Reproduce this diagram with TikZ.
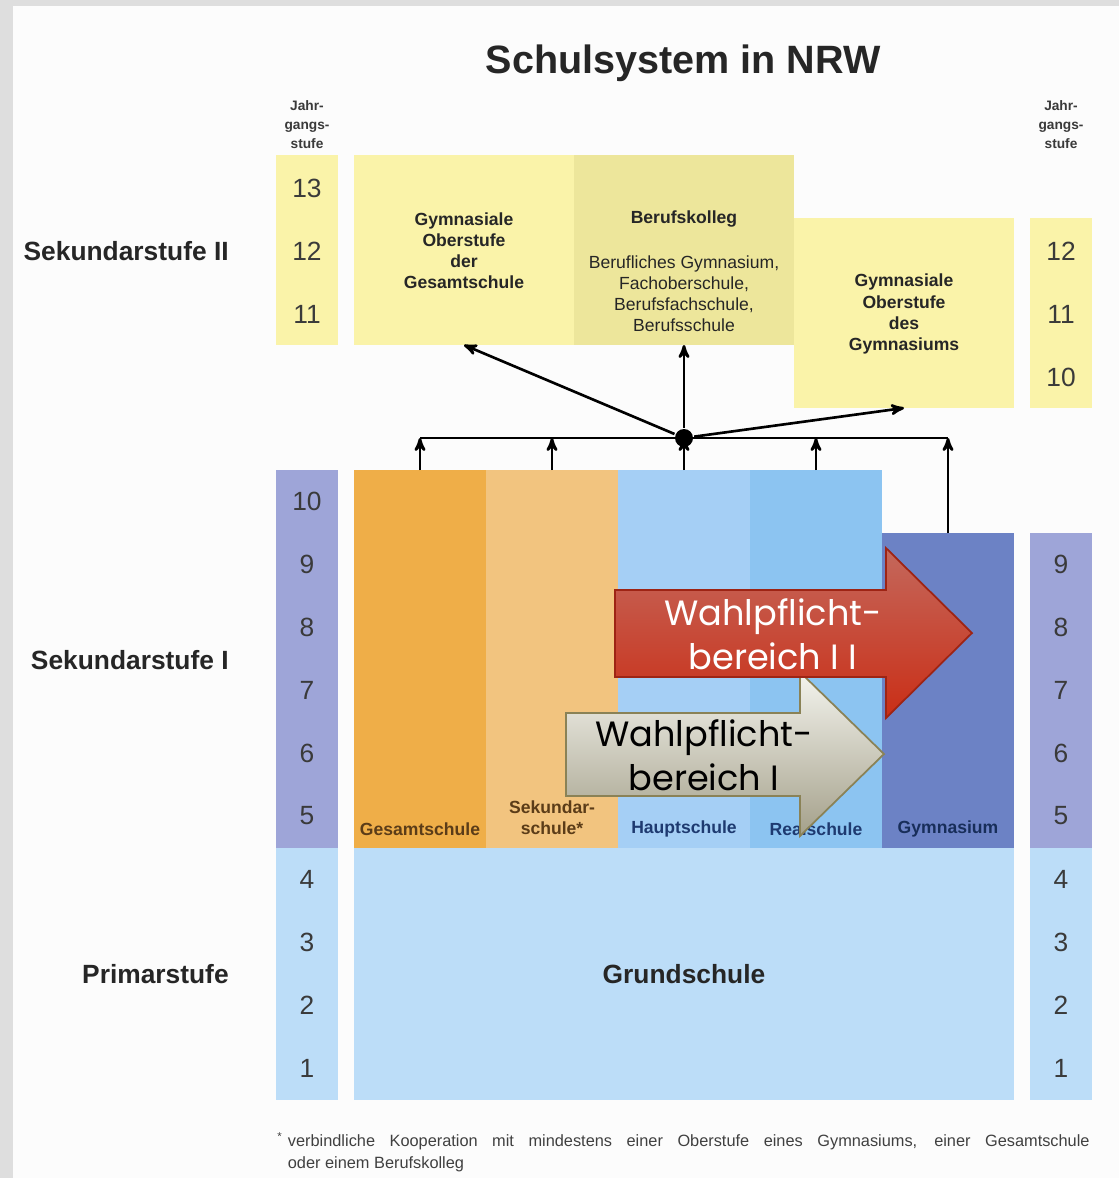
\documentclass[tikz,border=0pt]{standalone}
\usepackage{fontspec}
\setmainfont{Liberation Sans}
\newfontfamily\wpfont{Poppins}
\usetikzlibrary{arrows}

\definecolor{rahmen}{HTML}{DEDEDE}
\definecolor{papier}{HTML}{FCFCFC}
\definecolor{gelb}{HTML}{FAF3A9}
\definecolor{gelbdunkel}{HTML}{EDE69B}
\definecolor{lila}{HTML}{9EA5D8}
\definecolor{hellblau}{HTML}{BCDDF8}
\definecolor{orange}{HTML}{EFAE48}
\definecolor{hellorange}{HTML}{F2C47F}
\definecolor{hsblau}{HTML}{A5CFF5}
\definecolor{rsblau}{HTML}{8CC4F1}
\definecolor{gymblau}{HTML}{6C82C5}
\definecolor{zahl}{HTML}{3A3A3A}
\definecolor{braun}{HTML}{5B3C18}
\definecolor{dunkelblau}{HTML}{1E3A70}
\definecolor{rotoben}{HTML}{C4685C}
\definecolor{rotunten}{HTML}{CA2E16}
\definecolor{rotrand}{HTML}{9E2414}
\definecolor{grauoben}{HTML}{F4F4EE}
\definecolor{grauunten}{HTML}{A4A08A}
\definecolor{graurand}{HTML}{8A8256}

\tikzset{
  box/.style 2 args={inner sep=0pt,outer sep=0pt,minimum width=#1*0.02cm,minimum height=#2*0.02cm},
  num/.style={font=\fontsize{15}{15}\selectfont,text=zahl},
  jg/.style={font=\fontsize{7.8}{10.8}\selectfont\bfseries,text=zahl,align=center},
  lbl/.style={font=\fontsize{10}{12}\selectfont\bfseries,text=black!85,align=center},
  stufe/.style={font=\fontsize{15}{18}\selectfont\bfseries,text=black!85,anchor=east,inner sep=0pt},
  wp/.style={font=\wpfont\fontsize{20}{25}\selectfont,align=center}
}

\begin{document}
\begin{tikzpicture}[x=0.02cm,y=-0.02cm,>=stealth',line width=1.5pt]

  \fill[rahmen] (0,0) rectangle (1119,1178);
  \fill[papier] (13,6) rectangle (1119,1178);
  \useasboundingbox (0,0) rectangle (1119,1178);

  \node[font=\fontsize{22.5}{27}\selectfont\bfseries,text=black!85] (titel) at (683,63) {Schulsystem in NRW};

  % Jahrgangsstufen
  \node[jg] (jgl) at (307,125) {Jahr-\\gangs-\\stufe};
  \node[jg] (jgr) at (1061,125) {Jahr-\\gangs-\\stufe};
  \node[box={62}{190},fill=gelb] (l2) at (307,250) {};
  \node[box={62}{378},fill=lila] (l1) at (307,659) {};
  \node[box={62}{252},fill=hellblau] (lp) at (307,974) {};
  \node[box={62}{190},fill=gelb] (r2) at (1061,313) {};
  \node[box={62}{315},fill=lila] (r1) at (1061,690.5) {};
  \node[box={62}{252},fill=hellblau] (rp) at (1061,974) {};
  \foreach \n in {11,12,13} \node[num] (ln\n) at (307,{377-(\n-10)*63}) {\n};
  \foreach \n in {10,11,12} \node[num] (rn\n) at (1061,{377-(\n-10)*63}) {\n};
  \foreach \n in {1,...,10} \node[num] (ln\n) at (307,{1068-(\n-1)*63}) {\n};
  \foreach \n in {1,...,9} \node[num] (rn\n) at (1061,{1068-(\n-1)*63}) {\n};

  \node[stufe] (s2) at (230,251) {Sekundarstufe II};
  \node[stufe] (s1) at (230,660) {Sekundarstufe I};
  \node[stufe] (sp) at (230,974) {Primarstufe};

  % Sekundarstufe II
  \node[box={220}{190},fill=gelb] (gos) at (464,250) {};
  \node[box={220}{190},fill=gelbdunkel] (bk) at (684,250) {};
  \node[box={220}{190},fill=gelb] (gog) at (904,313) {};
  \node[lbl] (gost) at (464,251) {Gymnasiale\\Oberstufe\\der\\Gesamtschule};
  \node[lbl] (bkt) at (684,219) {Berufskolleg};
  \node[lbl,font=\fontsize{10}{12}\selectfont] (bkl) at (684,294) {Berufliches Gymnasium,\\Fachoberschule,\\Berufsfachschule,\\Berufsschule};
  \node[lbl] (gogt) at (904,314) {Gymnasiale\\Oberstufe\\des\\Gymnasiums};

  % Sekundarstufe I und Primarstufe
  \node[box={132}{378},fill=orange] (ges) at (420,659) {};
  \node[box={132}{378},fill=hellorange] (sek) at (552,659) {};
  \node[box={132}{378},fill=hsblau] (haupt) at (684,659) {};
  \node[box={132}{378},fill=rsblau] (real) at (816,659) {};
  \node[box={132}{315},fill=gymblau] (gym) at (948,690.5) {};
  \node[box={660}{252},fill=hellblau] (grund) at (684,974) {};
  \node[lbl,text=braun] (gest) at (420,829) {Gesamtschule};
  \node[lbl,text=braun] (sekt) at (552,818) {Sekundar-\\schule*};
  \node[lbl,text=dunkelblau] (hauptt) at (684,829) {Hauptschule};
  \node[lbl,text=dunkelblau] (realt) at (816,829) {Realschule};
  \node[lbl,text=dunkelblau!80!black] (gymt) at (948,829) {Gymnasium};
  \node[lbl,font=\fontsize{15}{18}\selectfont\bfseries] (grundt) at (684,974) {Grundschule};

  % Uebergaenge
  \node[circle,fill=black,inner sep=0pt,minimum size=18*0.02cm] (hub) at (684,438) {};
  \draw (ges.north |- hub) -- (gym.north |- hub);
  \foreach \c in {ges,sek,haupt,real,gym} \draw[->] (\c.north) -- (\c.north |- hub);
  \draw[->] (hub) -- (gos.south);
  \draw[->] (hub) -- (bk.south);
  \draw[->] (hub) -- (gog.south);

  % Wahlpflichtbereiche
  \path[draw=graurand,line width=1pt,top color=grauoben,bottom color=grauunten]
    (566,713) -- (800,713) -- (800,672) -- (884,754) -- (800,836) -- (800,796) -- (566,796) -- cycle;
  \path[draw=rotrand,line width=1pt,top color=rotoben,bottom color=rotunten]
    (615,590) -- (886,590) -- (886,548) -- (972,633) -- (886,718) -- (886,677) -- (615,677) -- cycle;
  \node[wp,text=black] (wp1) at (704,755) {Wahlpflicht-\\bereich I};
  \node[wp,text=white] (wp2) at (773,634) {Wahlpflicht-\\bereich I I};

  \node[anchor=north west,align=left,inner sep=0pt,font=\fontsize{9.3}{12}\selectfont,text=black!75] (fn) at (276,1131)
    {\makebox[16.25cm][s]{\textsuperscript{*}\kern3pt verbindliche Kooperation mit mindestens einer Oberstufe eines Gymnasiums, einer Gesamtschule}\\
     \hspace*{6pt}oder einem Berufskolleg};

\end{tikzpicture}
\end{document}
